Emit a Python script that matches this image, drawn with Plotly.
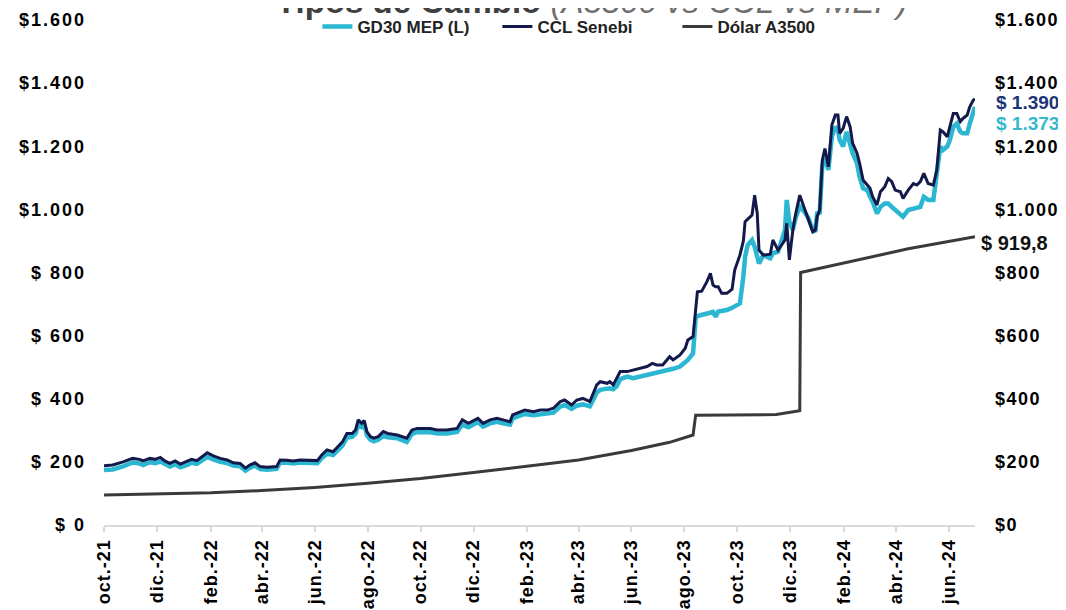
import plotly.graph_objects as go

# ---------------- data ----------------
dates = [
    "2021-10-01", "2021-10-11", "2021-10-23", "2021-10-31", "2021-11-03", "2021-11-11", "2021-11-15",
    "2021-11-23", "2021-11-29", "2021-12-05", "2021-12-10", "2021-12-16", "2021-12-22", "2021-12-28",
    "2022-01-05", "2022-01-10", "2022-01-16", "2022-01-22", "2022-01-28", "2022-02-04", "2022-02-12",
    "2022-02-20", "2022-02-27", "2022-03-07", "2022-03-13", "2022-03-18", "2022-03-24", "2022-03-30",
    "2022-04-07", "2022-04-18", "2022-04-22", "2022-04-30", "2022-05-07", "2022-05-15", "2022-05-23",
    "2022-06-04", "2022-06-09", "2022-06-15", "2022-06-22", "2022-06-28", "2022-07-03", "2022-07-08",
    "2022-07-14", "2022-07-18", "2022-07-21", "2022-07-25", "2022-07-28", "2022-07-31", "2022-08-04",
    "2022-08-08", "2022-08-13", "2022-08-19", "2022-08-24", "2022-09-04", "2022-09-10", "2022-09-15",
    "2022-09-21", "2022-09-27", "2022-10-12", "2022-10-20", "2022-10-31", "2022-11-12", "2022-11-18",
    "2022-11-25", "2022-12-06", "2022-12-12", "2022-12-20", "2022-12-28", "2023-01-04", "2023-01-12",
    "2023-01-15", "2023-01-24", "2023-01-29", "2023-02-08", "2023-02-16", "2023-02-24", "2023-03-03",
    "2023-03-11", "2023-03-16", "2023-03-24", "2023-03-30", "2023-04-06", "2023-04-14", "2023-04-22",
    "2023-04-26", "2023-05-04", "2023-05-07", "2023-05-11", "2023-05-15", "2023-05-19", "2023-05-27",
    "2023-06-03", "2023-06-11", "2023-06-19", "2023-06-25", "2023-06-30", "2023-07-07", "2023-07-15",
    "2023-07-19", "2023-07-27", "2023-08-02", "2023-08-05", "2023-08-11", "2023-08-14", "2023-08-16",
    "2023-08-21", "2023-08-27", "2023-08-31", "2023-09-03", "2023-09-06", "2023-09-09", "2023-09-13",
    "2023-09-19", "2023-09-25", "2023-09-28", "2023-10-04", "2023-10-08", "2023-10-10", "2023-10-13",
    "2023-10-18", "2023-10-21", "2023-10-24", "2023-10-26", "2023-10-31", "2023-11-08", "2023-11-11",
    "2023-11-17", "2023-11-25", "2023-11-27", "2023-11-30", "2023-12-04", "2023-12-07", "2023-12-12",
    "2023-12-18", "2023-12-22", "2023-12-27", "2023-12-30", "2024-01-01", "2024-01-04", "2024-01-07",
    "2024-01-10", "2024-01-14", "2024-01-18", "2024-01-22", "2024-01-25", "2024-01-27", "2024-01-31",
    "2024-02-04", "2024-02-08", "2024-02-11", "2024-02-16", "2024-02-19", "2024-02-23", "2024-02-28",
    "2024-03-02", "2024-03-05", "2024-03-10", "2024-03-14", "2024-03-19", "2024-03-23", "2024-03-27",
    "2024-03-31", "2024-04-06", "2024-04-09", "2024-04-15", "2024-04-21", "2024-04-25", "2024-04-29",
    "2024-05-03", "2024-05-08", "2024-05-14", "2024-05-18", "2024-05-22", "2024-05-25", "2024-05-30",
    "2024-06-02", "2024-06-06", "2024-06-10", "2024-06-14", "2024-06-17", "2024-06-22", "2024-06-25",
    "2024-06-29", "2024-07-01",
]

ccl_senebi = [
    188, 190, 200, 208, 211, 208, 203,
    211, 208, 214, 203, 195, 203, 193,
    201, 208, 204, 216, 229, 219, 211,
    206, 197, 195, 180, 190, 197, 185,
    183, 185, 206, 205, 203, 206, 206,
    204, 222, 238, 232, 248, 264, 290,
    290, 301, 333, 322, 331, 296, 280,
    275, 280, 296, 290, 285, 280, 275,
    301, 306, 306, 301, 301, 306, 333,
    322, 338, 322, 333, 338, 333, 327,
    349, 359, 364, 359, 364, 364, 370,
    391, 396, 380, 396, 401, 391, 444,
    454, 449, 454, 444, 465, 486, 486,
    491, 496, 502, 512, 507, 507, 533,
    523, 539, 560, 586, 597, 690, 739,
    741, 771, 797, 760, 755, 755, 734,
    734, 747, 808, 855, 900, 961, 968,
    982, 1045, 987, 871, 855, 858, 903,
    871, 903, 956, 840, 934, 982, 1045,
    998, 972, 929, 935, 977, 998, 1156,
    1193, 1135, 1267, 1299, 1299, 1241, 1257,
    1294, 1262, 1209, 1178, 1146, 1093, 1077,
    1067, 1040, 1014, 1056, 1072, 1098, 1088,
    1061, 1056, 1035, 1061, 1082, 1077, 1088,
    1114, 1082, 1077, 1125, 1251, 1246, 1230,
    1262, 1304, 1304, 1278, 1288, 1299, 1325,
    1346, 1350,
]

gd30_mep = [
    174, 176, 186, 194, 198, 195, 190,
    199, 196, 201, 192, 185, 192, 183,
    190, 197, 194, 205, 216, 208, 200,
    196, 188, 186, 172, 181, 188, 177,
    175, 178, 198, 197, 195, 198, 197,
    196, 212, 226, 222, 237, 252, 277,
    279, 290, 318, 310, 318, 285, 270,
    265, 270, 282, 278, 275, 268, 263,
    289, 294, 294, 290, 290, 295, 318,
    310, 326, 312, 322, 327, 322, 318,
    338, 348, 352, 348, 352, 353, 356,
    375, 380, 368, 378, 382, 376, 420,
    428, 432, 433, 430, 440, 462, 470,
    465, 470, 474, 478, 482, 485, 491,
    495, 502, 515, 523, 544, 655, 662,
    665, 670, 672, 675, 660, 676, 678,
    681, 688, 692, 702, 787, 850, 887,
    903, 882, 850, 829, 855, 845, 861,
    866, 935, 1030, 960, 935, 970, 1009,
    990, 972, 935, 929, 987, 990, 1140,
    1162, 1125, 1230, 1262, 1251, 1220, 1199,
    1246, 1209, 1177, 1146, 1103, 1067, 1061,
    1040, 1024, 987, 1008, 1019, 1019, 1008,
    998, 987, 977, 998, 1003, 1008, 1008,
    1040, 1030, 1030, 1103, 1199, 1188, 1199,
    1220, 1262, 1272, 1246, 1241, 1241, 1272,
    1304, 1325,
]

a3500_dates = [
    "2021-10-01", "2021-12-01", "2022-02-01", "2022-04-01", "2022-06-01", "2022-08-01",
    "2022-10-01", "2022-12-01", "2023-02-01", "2023-04-01", "2023-06-01", "2023-07-15",
    "2023-08-11", "2023-08-14", "2023-11-15", "2023-12-12", "2023-12-13", "2024-02-15",
    "2024-04-15", "2024-07-01",
]
dolar_a3500 = [
    95, 98, 102, 109, 119, 132,
    147, 166, 187, 206, 236, 262,
    285, 348, 350, 362, 800, 838,
    875, 913,
]

x_tick_dates = [
    "2021-10-01", "2021-12-01", "2022-02-01", "2022-04-01", "2022-06-01", "2022-08-01",
    "2022-10-01", "2022-12-01", "2023-02-01", "2023-04-01", "2023-06-01", "2023-08-01",
    "2023-10-01", "2023-12-01", "2024-02-01", "2024-04-01", "2024-06-01",
]
x_tick_labels = [
    "oct.-21", "dic.-21", "feb.-22", "abr.-22", "jun.-22", "ago.-22",
    "oct.-22", "dic.-22", "feb.-23", "abr.-23", "jun.-23", "ago.-23",
    "oct.-23", "dic.-23", "feb.-24", "abr.-24", "jun.-24",
]
y_tick_vals = [0, 200, 400, 600, 800, 1000, 1200, 1400, 1600]
y_left_labels = ["$ 0", "$ 200", "$ 400", "$ 600", "$ 800", "$1.000", "$1.200", "$1.400", "$1.600"]
y_right_labels = ["$0", "$200", "$400", "$600", "$800", "$1.000", "$1.200", "$1.400", "$1.600"]

last_labels = ["$ 1.390", "$ 1.373", "$ 919,8"]

# ---------------- style ----------------
CYAN = "#2BB6D1"
NAVY = "#131A4B"
GRAY = "#3A3A3A"
FONT = "Liberation Sans, Arial, sans-serif"


def spaced(txt, px):
    return "<span style='letter-spacing:%spx'>%s</span>" % (px, txt)


fig = go.Figure()
fig.add_trace(go.Scatter(x=dates, y=gd30_mep, name="GD30 MEP (L)", mode="lines",
                         line=dict(color=CYAN, width=4.5), yaxis="y"))
fig.add_trace(go.Scatter(x=dates, y=ccl_senebi, name="CCL Senebi", mode="lines",
                         line=dict(color=NAVY, width=3), yaxis="y2"))
fig.add_trace(go.Scatter(x=a3500_dates, y=dolar_a3500, name="Dólar A3500", mode="lines",
                         line=dict(color=GRAY, width=3), yaxis="y2"))

tickfont = dict(family=FONT, size=18, color="#000000", weight="bold")

# The page adds an 8px body margin, so the figure is 8px smaller than the window
fig.update_layout(
    width=1058, height=602,
    margin=dict(l=96, r=91, t=12, b=85, autoexpand=False),
    paper_bgcolor="white", plot_bgcolor="white",
    showlegend=True,
    legend=dict(orientation="h", x=0.245, xanchor="left", y=0.986, yanchor="middle",
                font=dict(family=FONT, size=17, color="#222222", weight="bold"),
                bgcolor="rgba(0,0,0,0)", entrywidth=135, entrywidthmode="pixels",
                tracegroupgap=0),
    xaxis=dict(type="date", range=[dates[0], dates[-1]],
               tickvals=x_tick_dates, ticktext=[spaced(t, 1) for t in x_tick_labels],
               tickangle=-90,
               ticks="outside", ticklen=5, tickwidth=1.5, tickcolor="#d9d9d9",
               showline=True, linecolor="#d9d9d9", linewidth=2,
               showgrid=False, zeroline=False, tickfont=tickfont),
    yaxis=dict(range=[0, 1600], tickvals=y_tick_vals,
               ticktext=[spaced(t, 2) for t in y_left_labels],
               showgrid=False, zeroline=False, showline=False, ticks="",
               ticklabelstandoff=17, tickfont=tickfont),
    yaxis2=dict(range=[0, 1600], tickvals=y_tick_vals,
                ticktext=[spaced(t, 1.5) for t in y_right_labels],
                overlaying="y", side="right",
                showgrid=False, zeroline=False, showline=False, ticks="",
                ticklabelstandoff=19, tickfont=tickfont),
)

# Title (partly cut off at the top, as in the reference)
fig.add_annotation(
    xref="paper", yref="paper", x=0.56, y=0.996, xanchor="center", yanchor="bottom",
    text="<b>Tipos de Cambio</b> <i><span style='color:#6f6f6f'>(A3500 vs CCL vs MEP)</span></i>",
    showarrow=False, font=dict(family=FONT, size=33, color="#404040"),
)

# Last-value labels on the right
fig.add_annotation(xref="paper", yref="y2", x=1.022, y=ccl_senebi[-1] - 12, xanchor="left", yanchor="middle",
                   text=last_labels[0], showarrow=False,
                   font=dict(family=FONT, size=19, color="#1C3577", weight="bold"))
fig.add_annotation(xref="paper", yref="y2", x=1.022, y=gd30_mep[-1] - 52, xanchor="left", yanchor="middle",
                   text=last_labels[1], showarrow=False,
                   font=dict(family=FONT, size=19, color="#35B8CE", weight="bold"))
fig.add_annotation(xref="paper", yref="y2", x=1.0046, y=dolar_a3500[-1] - 20, xanchor="left", yanchor="middle",
                   text=last_labels[2], showarrow=False,
                   font=dict(family=FONT, size=20, color="#111111", weight="bold"))

fig.write_html("out.html")
